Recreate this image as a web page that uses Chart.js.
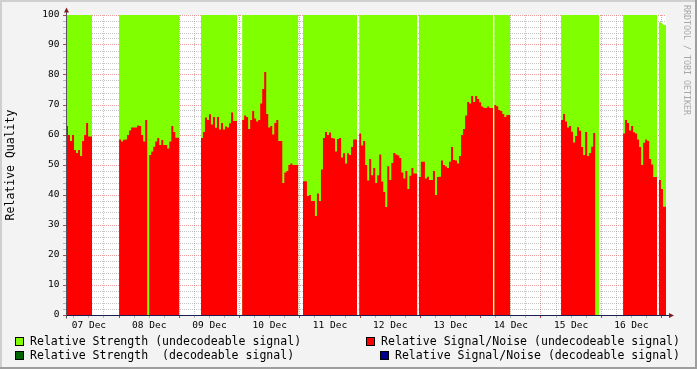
<!DOCTYPE html>
<html><head><meta charset="utf-8">
<script src="https://cdn.jsdelivr.net/npm/chart.js@4.4.1/dist/chart.umd.min.js"></script>
<style>
html,body{margin:0;padding:0;background:#f3f3f3;}
#wrap{position:relative;width:697px;height:369px;background:#f3f3f3;overflow:hidden;font-family:'DejaVu Sans Mono',monospace;}
#c{position:absolute;left:0;top:0;}
.ft{position:absolute;left:0;top:0;width:697px;height:2px;background:#cfcfcf;}
.fl{position:absolute;left:0;top:0;width:2px;height:369px;background:#cfcfcf;}
.fb{position:absolute;left:0;bottom:0;width:697px;height:2px;background:#9e9e9e;}
.fr{position:absolute;right:0;top:0;width:2px;height:369px;background:#9e9e9e;}
.row{position:absolute;left:15px;width:665px;height:14px;display:flex;justify-content:space-between;align-items:center;font-size:11.56px;color:#000;white-space:pre;}
.it{display:flex;align-items:center;}
.sw{width:7px;height:7px;border:1px solid #000;margin-right:6px;}
.wm{position:absolute;left:682px;top:5px;writing-mode:vertical-rl;font-size:8.3px;line-height:10px;color:#a8a8a8;white-space:pre;}
</style></head>
<body>
<div id="wrap">
<canvas id="c" width="697" height="369"></canvas>
<div class="row" style="top:334px">
  <div class="it"><div class="sw" style="background:#7fff00"></div><span>Relative Strength (undecodeable signal)</span></div>
  <div class="it"><div class="sw" style="background:#ff0000"></div><span>Relative Signal/Noise (undecodeable signal)</span></div>
</div>
<div class="row" style="top:348px">
  <div class="it"><div class="sw" style="background:#006400"></div><span>Relative Strength  (decodeable signal)</span></div>
  <div class="it"><div class="sw" style="background:#000090"></div><span>Relative Signal/Noise (decodeable signal)</span></div>
</div>
<div class="wm">RRDTOOL / TOBI OETIKER</div>
<div class="ft"></div><div class="fl"></div><div class="fb"></div><div class="fr"></div>
</div>
<script>
// ---- data (x axis: hours since 07 Dec 00:00) ----
const dayLabels = ['07 Dec','08 Dec','09 Dec','10 Dec','11 Dec','12 Dec','13 Dec','14 Dec','15 Dec','16 Dec'];
const yLabelValues = [0,10,20,30,40,50,60,70,80,90,100];
const STEP_H = 0.8;           // sample length in hours
const X_MIN = 2.87, X_MAX = 241.8;
const blockStart = [2.87, 24.0, 56.6, 73.0, 97.2, 119.6, 143.4, 173.4, 200.0, 224.7, 239.0];
const snr1 = [56,63,60,58,60,55,54,55,53,58,60,64,59.5];
const snr2 = [57.6,58.5,57.8,58.4,58.5,60,61.5,62.5,62.5,62.5,63.2,63,60,57.8,65,0,53.3,54.5,56.1,57.8,59,56.7,58.3,56.7,56.7,55.5,57.8,63,61,59.1];
const snr3 = [57.5,59,61,65.8,65,66.9,63.5,66,62.4,66,61.8,64,61.8,62.8,62.5,63.9,67.5,64.7];
const snr4 = [66,65,66.5,66,62,65,68,65.5,64.5,65,70.5,75.3,81,67,62.5,63,60.2,64,65,58,58,44,47.5,48,50,50.5,50,50];
const snr5 = [45,44.6,44.6,39.7,40,38,38,33,40.5,38,48.5,59,61,60,60.8,59,58.8,54.5,58.7,59,52.5,53.9,50.5,53.9,53.3,56,58.5];
const snr6 = [63.5,60.5,56.5,58,50,44.8,52,46.6,49,44,46.6,53.5,44.5,41,36,49.6,45,50.7,54,53.5,53.2,52.3,47.5,45.5,48,42,46.4,49,47.2];
const snr7 = [49.5,46,51.1,51.1,45.5,46.1,45,45,48,40,46,46.1,51.5,50,49.5,49,51.1,56,51.7,51.5,50.5,53,60,62,66.5,71,70.5,73,71,73,72,70.9,69.5,69.1,69,69.5,69];
const snr8 = [69.5,70,69.6,68.3,68,67,66,66.7];
const snr9 = [67.8,65,67,64.5,62.5,63,61.1,57.5,59.7,62.6,61.4,56,53.3,61,53,54,56.1,60.7,0];
const snr10 = [57.8,60.5,65,64,61.5,63,60.9,60.5,58.5,56,50,57.4,58.5,58,52,50.2,46];
const snr11 = [46.1,45,42,36.1];
const strengthLevel = [100,100,100,100,100,100,100,100,100,100];
const strength11 = [97.2,97.6,97.2,96.7];
const decodeStrength = [];
const decodeSnr = [];

// ---- build point lists for the library ----
const snrBlocks = [snr1,snr2,snr3,snr4,snr5,snr6,snr7,snr8,snr9,snr10,snr11];
function buildPoints(getVals){
  const pts = [];
  snrBlocks.forEach((blk, b) => {
    const vals = getVals(b, blk);
    const s = blockStart[b];
    vals.forEach((v, i) => pts.push({x: s + i*STEP_H, y: v}));
    const end = s + vals.length*STEP_H;
    pts.push({x: end, y: vals[vals.length-1]});
    pts.push({x: end + 0.01, y: null});
  });
  return pts;
}
const snrPoints = buildPoints((b, blk) => blk);
const strPoints = buildPoints((b, blk) => b < strengthLevel.length ? blk.map(() => strengthLevel[b]) : strength11);

const gridHours = [];
for (let h = 6; h <= 240; h += 6) gridHours.push(h);
const gridY = [];
for (let v = 0; v <= 100; v += 2) gridY.push(v);

const MAJ = 'rgba(215,80,80,0.55)';
const MIN = 'rgba(140,140,140,0.5)';
const FONT = 'DejaVu Sans Mono';

const framePlugin = {
  id: 'framePlugin',
  beforeDraw(chart){
    const {ctx, chartArea: a} = chart;
    ctx.save(); ctx.fillStyle = '#ffffff';
    ctx.fillRect(a.left, a.top, a.right - a.left, a.bottom - a.top);
    ctx.restore();
  },
  afterDraw(chart){
    const {ctx, chartArea: a} = chart;
    const x0 = Math.round(a.left) + 0.5, y0 = Math.round(a.bottom) + 0.5;
    ctx.save();
    ctx.lineWidth = 1;
    ctx.strokeStyle = '#1c1c50';
    ctx.beginPath(); ctx.moveTo(x0 - 0.5, y0); ctx.lineTo(a.right + 4, y0); ctx.stroke();
    ctx.strokeStyle = '#555560';
    ctx.beginPath(); ctx.moveTo(x0, y0 + 3); ctx.lineTo(x0, a.top - 3); ctx.stroke();
    ctx.fillStyle = '#801f1f';
    ctx.beginPath(); ctx.moveTo(x0 - 2.5, a.top - 2.5); ctx.lineTo(x0 + 2.5, a.top - 2.5); ctx.lineTo(x0, a.top - 7.5); ctx.closePath(); ctx.fill();
    ctx.beginPath(); ctx.moveTo(a.right + 3, y0 - 2.5); ctx.lineTo(a.right + 3, y0 + 2.5); ctx.lineTo(a.right + 8, y0); ctx.closePath(); ctx.fill();
    ctx.restore();
  }
};

new Chart(document.getElementById('c'), {
  type: 'line',
  data: { datasets: [
    {label: 'Relative Signal/Noise (decodeable signal)', data: decodeSnr, backgroundColor: '#000090', borderColor: 'rgba(0,0,0,0)', fill: 'origin', stepped: 'after', pointRadius: 0},
    {label: 'Relative Strength  (decodeable signal)', data: decodeStrength, backgroundColor: '#006400', borderColor: 'rgba(0,0,0,0)', fill: 'origin', stepped: 'after', pointRadius: 0},
    {label: 'Relative Signal/Noise (undecodeable signal)', data: snrPoints, backgroundColor: '#ff0000', borderColor: 'rgba(0,0,0,0)', borderWidth: 0, fill: 'origin', stepped: 'after', pointRadius: 0, spanGaps: false},
    {label: 'Relative Strength (undecodeable signal)', data: strPoints, backgroundColor: '#7fff00', borderColor: 'rgba(0,0,0,0)', borderWidth: 0, fill: 'origin', stepped: 'after', pointRadius: 0, spanGaps: false}
  ]},
  options: {
    responsive: false, animation: false, devicePixelRatio: 1,
    layout: {padding: {top: 15, right: 31, left: 0, bottom: 0}},
    plugins: {legend: {display: false}, tooltip: {enabled: false}},
    scales: {
      x: {
        type: 'linear', min: X_MIN, max: X_MAX, z: 1,
        afterBuildTicks: s => { s.ticks = gridHours.map(v => ({value: v})); },
        afterFit: s => { s.height = 54; },
        grid: {
          color: c => (c.tick && c.tick.value % 24 === 0) ? MAJ : MIN,
          tickColor: c => (c.tick && c.tick.value % 24 === 0) ? '#c04040' : 'rgba(140,140,140,0.6)',
          lineWidth: 1, drawTicks: true, tickLength: 3, tickBorderDash: []
        },
        border: {display: false, dash: [1, 1]},
        ticks: {
          autoSkip: false, maxRotation: 0, minRotation: 0, padding: 2, color: '#000',
          font: {family: FONT, size: 9.5},
          callback: v => (v % 24 === 12) ? dayLabels[(v - 12) / 24] : ''
        }
      },
      y: {
        type: 'linear', min: 0, max: 100, z: 1,
        afterBuildTicks: s => { s.ticks = gridY.map(v => ({value: v})); },
        afterFit: s => { s.width = 66; },
        grid: {
          color: c => (c.tick && c.tick.value % 10 === 0) ? MAJ : MIN,
          tickColor: c => (c.tick && c.tick.value % 10 === 0) ? '#c04040' : 'rgba(140,140,140,0.6)',
          lineWidth: 1, drawTicks: true, tickLength: 3, tickBorderDash: []
        },
        border: {display: false, dash: [1, 1]},
        title: {display: true, text: 'Relative Quality', color: '#000', font: {family: FONT, size: 11.5}, padding: {top: 4, bottom: 0}},
        ticks: {
          autoSkip: false, padding: 3.5, color: '#000',
          font: {family: FONT, size: 9.5},
          callback: v => yLabelValues.includes(v) ? String(v) : ''
        }
      }
    }
  },
  plugins: [framePlugin]
});
</script>
</body></html>
